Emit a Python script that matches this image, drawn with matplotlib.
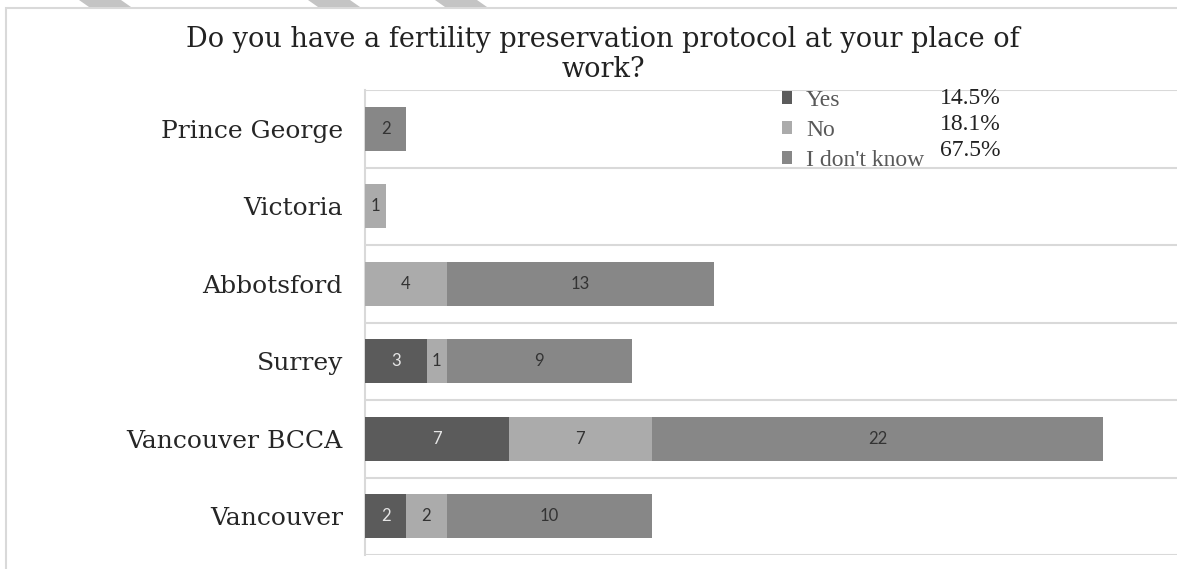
import matplotlib.pyplot as plt
from matplotlib.patches import Polygon, Rectangle

# Survey answers per site
sites = ['Prince George', 'Victoria', 'Abbotsford', 'Surrey', 'Vancouver BCCA', 'Vancouver']
yes_counts = [0, 0, 0, 3, 7, 2]
no_counts = [0, 1, 4, 1, 7, 2]
dont_know_counts = [2, 0, 13, 9, 22, 10]

answers = ['Yes', 'No', "I don't know"]
answer_shares = ['14.5%', '18.1%', '67.5%']
colors = ['#5b5b5b', '#ababab', '#878787']
text_colors = ['#e6e6e6', '#333333', '#333333']

W, H = 1177, 569
fig = plt.figure(figsize=(W / 100, H / 100), dpi=100)

# light frame of the original chart area
fig.patches.append(Rectangle((6 / W, -0.1), 1.2, 1 - 8 / H + 0.1, transform=fig.transFigure,
                             fill=False, edgecolor='#d9d9d9', linewidth=1.5))
# grey shapes cut off at the top of the page
for x0 in [79, 308, 435]:
    fig.patches.append(Polygon([((x0) / W, 1), ((x0 + 42) / W, 1), ((x0 + 52) / W, 1 - 7 / H),
                                ((x0 + 10) / W, 1 - 7 / H)], closed=True, transform=fig.transFigure,
                               facecolor='#c4c4c4', edgecolor='none'))

ax = fig.add_axes([365 / W, 1 - 555 / H, 1 - 365 / W, (555 - 90) / H])

y = list(range(len(sites)))
left = [0] * len(sites)
bars = []
for values, color, tcolor, name in zip([yes_counts, no_counts, dont_know_counts], colors, text_colors, answers):
    b = ax.barh(y, values, left=left, height=0.57, color=color, label=name, zorder=3)
    ax.bar_label(b, labels=[str(v) if v else '' for v in values], label_type='center',
                 color=tcolor, fontsize=12, family='Lato')
    left = [l + v for l, v in zip(left, values)]
    bars.append(b)

ax.set_xlim(0, (W - 365) / 20.5)
ax.set_ylim(len(sites) - 0.5, -0.5)
for k in range(len(sites) + 1):
    ax.axhline(k - 0.5, color='#d9d9d9', linewidth=1.5, zorder=1)
for side in ['top', 'right', 'bottom']:
    ax.spines[side].set_visible(False)
ax.spines['left'].set_color('#d9d9d9')
ax.spines['left'].set_linewidth(1.5)
ax.set_xticks([])
ax.set_yticks(y)
ax.set_yticklabels(sites, family='DejaVu Serif', fontsize=18, color='#262626')
ax.tick_params(axis='y', length=0, pad=16)

fig.text(603 / W, 1 - 77 / H, 'Do you have a fertility preservation protocol at your place of\nwork?',
         ha='center', va='baseline', family='DejaVu Serif', fontsize=19.5, color='#222222',
         linespacing=1.12)

leg = fig.legend(handles=bars, labels=answers, loc='upper left', bbox_to_anchor=(782 / W, 1 - 90 / H),
                 frameon=False, prop={'family': 'Liberation Serif', 'size': 17},
                 handlelength=0.42, handleheight=0.42, handletextpad=0.6, labelspacing=0.38,
                 borderpad=0, borderaxespad=0)
for t in leg.get_texts():
    t.set_color('#595959')

for i, share in enumerate(answer_shares):
    fig.text(940 / W, 1 - (98 + 26 * i) / H, share, ha='left', va='center',
             family='Liberation Serif', fontsize=17, color='#222222')

fig.savefig('out.png', dpi=100)
